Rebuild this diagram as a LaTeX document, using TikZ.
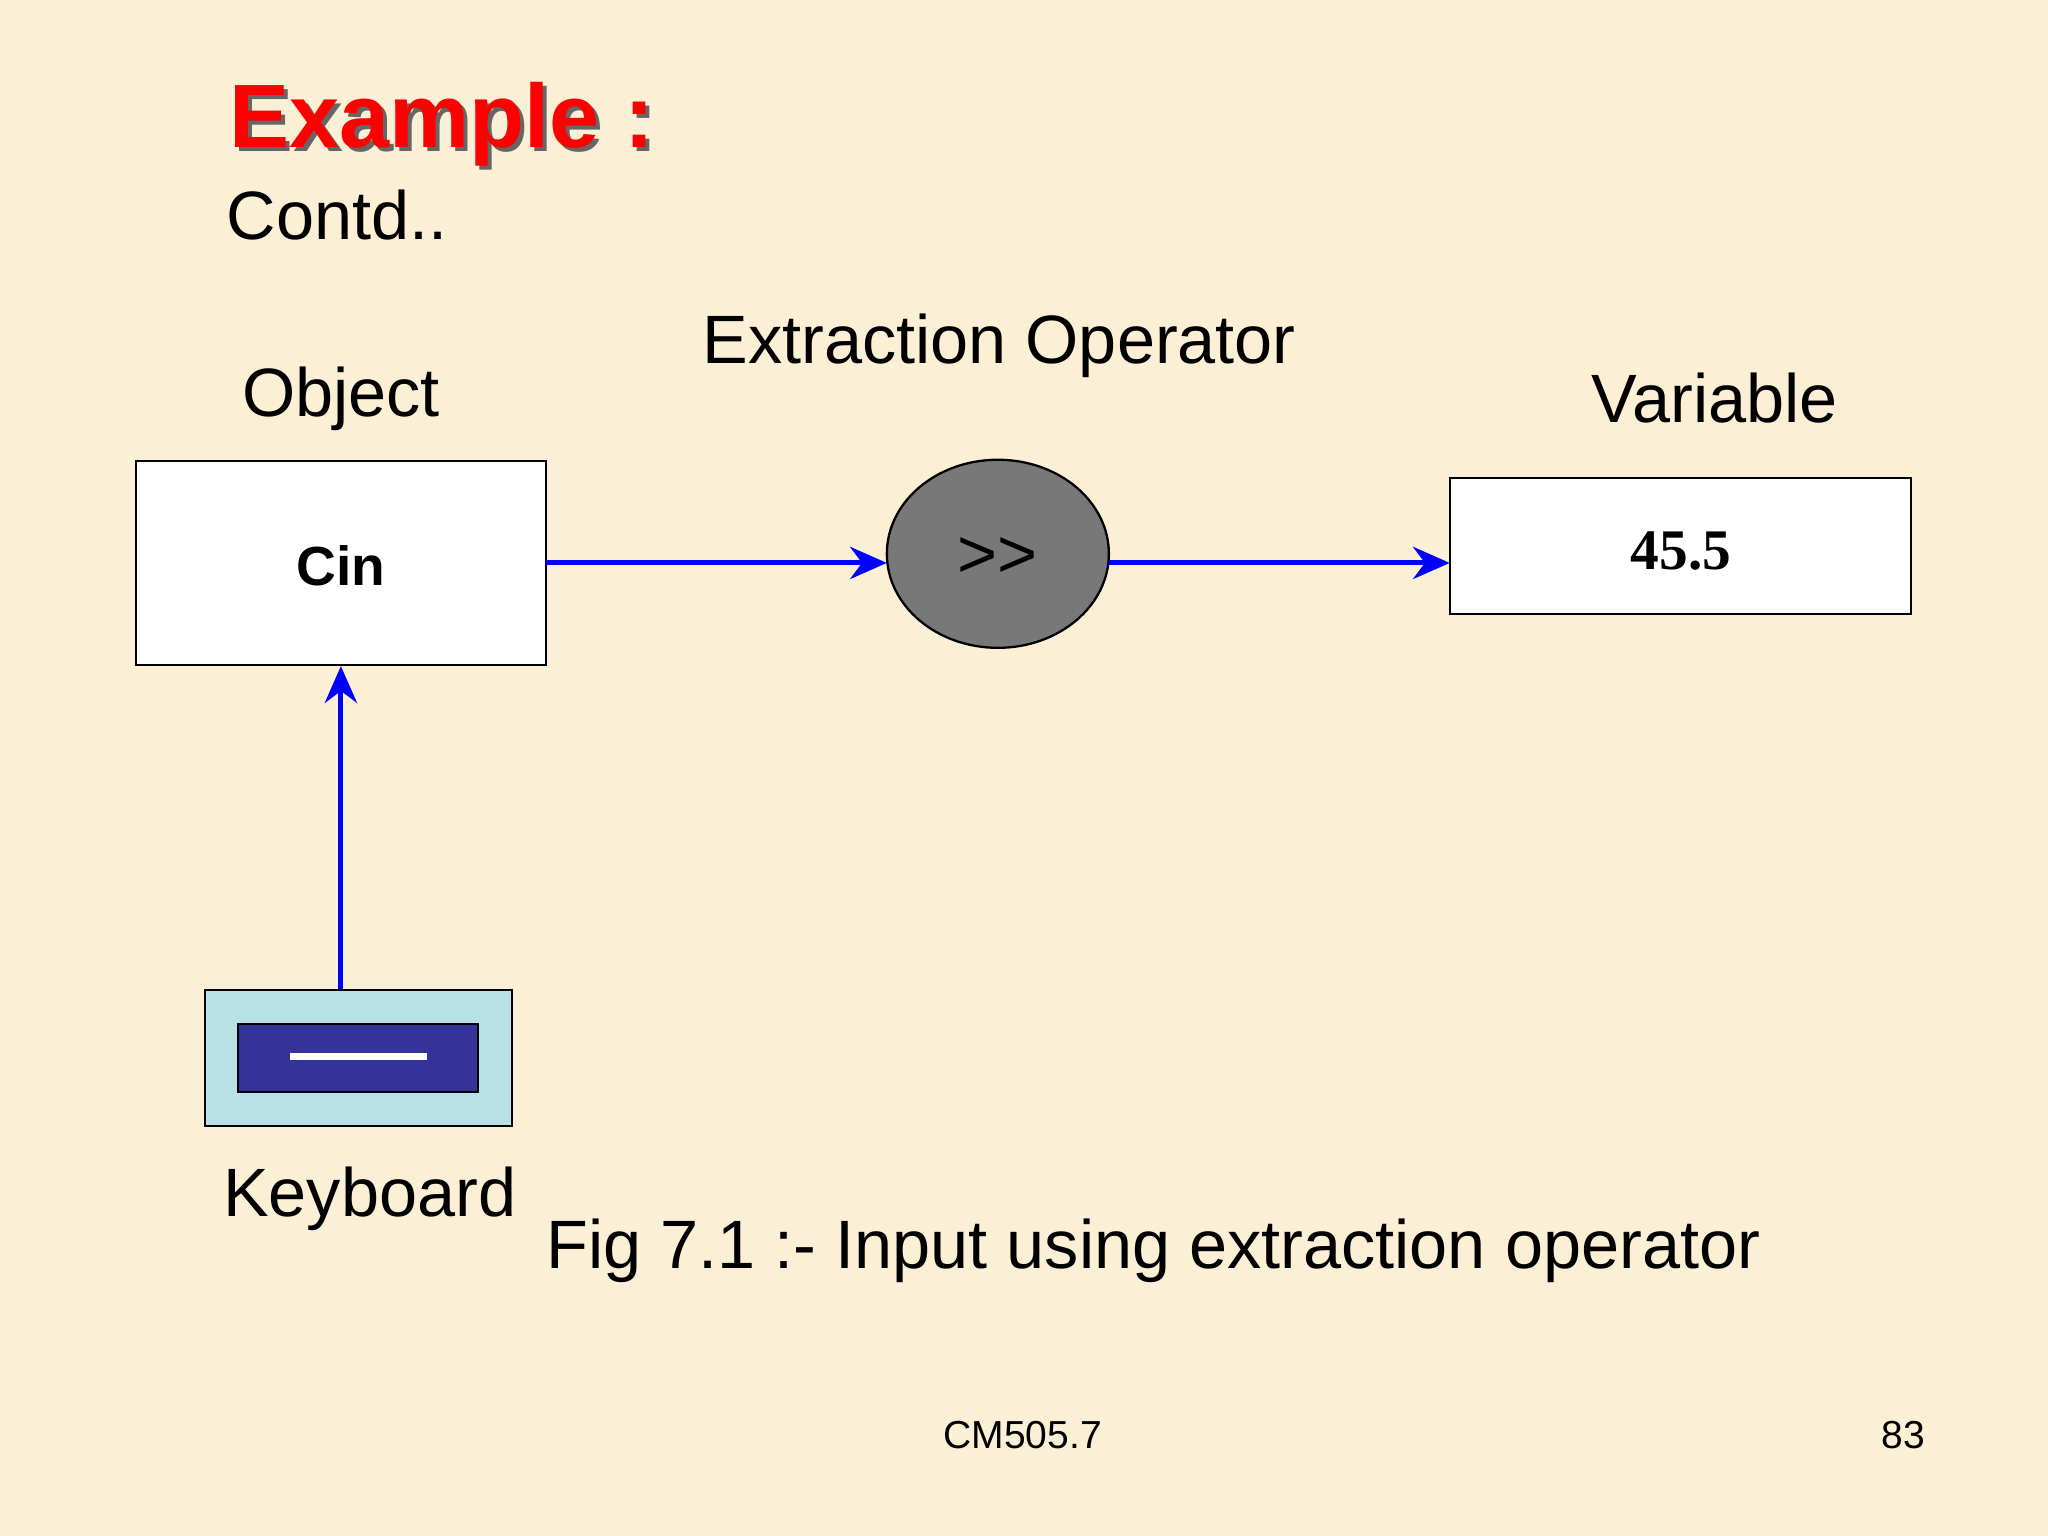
\documentclass[tikz,border=0pt]{standalone}
\usepackage{fontspec}
\setmainfont{Liberation Sans}
\usetikzlibrary{arrows.meta,shapes.geometric}
\definecolor{bg}{HTML}{FBEFD6}
\definecolor{kb}{HTML}{B9E0E4}
\definecolor{kbin}{HTML}{333399}
\tikzset{
  lbl/.style={font=\fontsize{14.9}{17}\selectfont, inner sep=0pt},
  conn/.style={blue, line width=1.1pt, -{Stealth[length=8pt,width=7pt]}},
  boxst/.style={draw=black, fill=white, line width=0.5pt}
}
\begin{document}
\begin{tikzpicture}[x=0.01cm,y=-0.01cm]
\fill[bg] (0,0) rectangle (1568,1176);
\useasboundingbox (0,0) rectangle (1568,1176);
\node[anchor=west, inner sep=0pt, font=\fontsize{19.6}{22}\selectfont\bfseries, text=black!60] (exs) at (178,98) {Example :};
\node[anchor=west, inner sep=0pt, font=\fontsize{19.6}{22}\selectfont\bfseries, text=red] (ex) at (175,95) {Example :};
\node[lbl, anchor=west] (contd) at (173,165) {Contd..};
\node[lbl] (obj) at (261,305) {Object};
\node[lbl] (extr) at (765,265) {Extraction Operator};
\node[lbl] (var) at (1313,305) {Variable};
\draw[boxst] (104,353) rectangle (418,509);
\node[font=\fontsize{12}{14}\selectfont\bfseries] (cin) at (261,433) {Cin};
\coordinate (cinE) at (418,431);
\coordinate (cinS) at (261,510);
\fill[black!53, draw=black, line width=0.5pt] (764,424) ellipse [x radius=85, y radius=72];
\node[font=\fontsize{14.9}{16}\selectfont] (op) at (764,427) {{>}{>}};
\coordinate (opW) at (679,431);
\coordinate (opE) at (849,431);
\draw[boxst] (1110,366) rectangle (1463,470);
\node[font=\fontsize{12.5}{15}\selectfont\bfseries\fontspec{Liberation Serif}] (val) at (1287,422) {45.5};
\coordinate (valW) at (1110,431);
\draw[draw=black, fill=kb, line width=0.5pt] (157,758) rectangle (392,862);
\draw[draw=black, fill=kbin, line width=0.5pt] (182,784) rectangle (366,836);
\draw[white, line width=1.5pt] (222,809) -- (327,809);
\coordinate (kbN) at (261,757);
\draw[conn] (cinE) -- (opW);
\draw[conn] (opE) -- (valW);
\draw[conn] (kbN) -- (cinS);
\node[lbl] (kbl) at (283,918) {Keyboard};
\node[lbl] (fig) at (883,958) {Fig 7.1 :- Input using extraction operator};
\node[font=\fontsize{8.5}{10}\selectfont, inner sep=0pt] (cm) at (783,1099) {CM505.7};
\node[font=\fontsize{8.5}{10}\selectfont, inner sep=0pt] (pg) at (1457,1099) {83};
\end{tikzpicture}
\end{document}
